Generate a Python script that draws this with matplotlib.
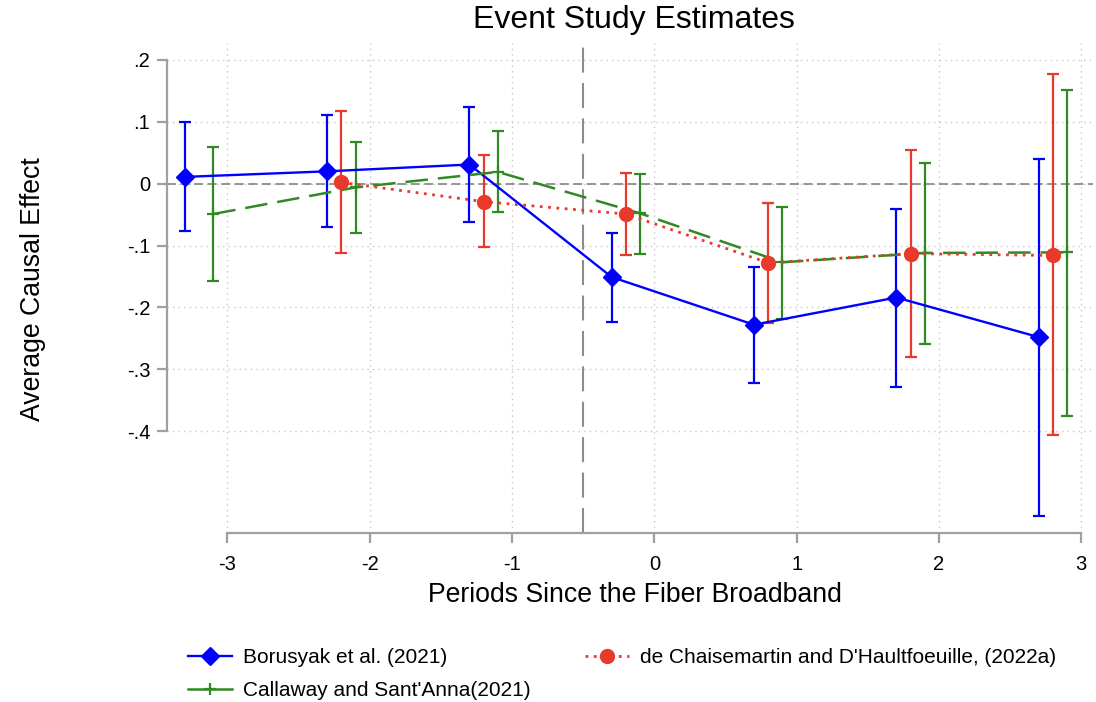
import matplotlib
matplotlib.use("Agg")
import matplotlib.pyplot as plt
from matplotlib.lines import Line2D
import numpy as np

plt.rcParams['font.family'] = ['Liberation Sans', 'DejaVu Sans']

# ---- data ----
periods = [-3, -2, -1, 0, 1, 2, 3]

# Borusyak et al. (2021)
bor_x = [-3.3, -2.3, -1.3, -0.3, 0.7, 1.7, 2.7]
bor_est = [0.011, 0.020, 0.031, -0.151, -0.228, -0.184, -0.248]
bor_lo = [-0.077, -0.070, -0.062, -0.223, -0.323, -0.328, -0.537]
bor_hi = [0.099, 0.111, 0.124, -0.079, -0.134, -0.041, 0.040]

# Callaway and Sant'Anna (2021)
cs_x = [-3.1, -2.1, -1.1, -0.1, 0.9, 1.9, 2.9]
cs_est = [-0.049, -0.006, 0.019, -0.048, -0.127, -0.112, -0.111]
cs_lo = [-0.158, -0.079, -0.046, -0.113, -0.218, -0.259, -0.375]
cs_hi = [0.060, 0.068, 0.085, 0.016, -0.038, 0.033, 0.152]

# de Chaisemartin and D'Haultfoeuille (2022a)
dc_x = [-2.2, -1.2, -0.2, 0.8, 1.8, 2.8]
dc_est = [0.002, -0.029, -0.049, -0.128, -0.113, -0.116]
dc_lo = [-0.112, -0.103, -0.115, -0.226, -0.281, -0.406]
dc_hi = [0.118, 0.047, 0.018, -0.031, 0.055, 0.177]

yticks = [0.2, 0.1, 0.0, -0.1, -0.2, -0.3, -0.4]
ytick_labels = [".2", ".1", "0", "-.1", "-.2", "-.3", "-.4"]
xtick_labels = ["-3", "-2", "-1", "0", "1", "2", "3"]

title = "Event Study Estimates"
xlabel = "Periods Since the Fiber Broadband"
ylabel = "Average Causal Effect"
labels = ["Borusyak et al. (2021)", "Callaway and Sant'Anna(2021)",
          "de Chaisemartin and D'Haultfoeuille, (2022a)"]

BLUE = "#0000FF"
GREEN = "#2F8A22"
RED = "#E8392B"
GREY = "#A0A0A0"

W, H = 1096, 702
fig = plt.figure(figsize=(W / 100, H / 100), dpi=100)
ax = fig.add_axes([167.5 / W, (H - 533) / H, (1093 - 167.5) / W, (533 - 43) / H])

x_left = -3 - 60 / 142.3
x_right = x_left + (1093 - 167.5) / 142.3
ax.set_xlim(x_left, x_right)
ax.set_ylim(-(533 - 183.7) / 618.5, (183.7 - 43) / 618.5)

# grid
for t in periods:
    ax.axvline(t, color="#C8C8C8", lw=1.0, ls=(0, (1, 3)), zorder=0)
for v in yticks:
    ax.axhline(v, color="#C8C8C8", lw=1.0, ls=(0, (1, 3)), zorder=0)

ax.axhline(0, color="#8C8C8C", lw=1.3, ls=(0, (5, 2.5)), zorder=1)
ax.axvline(-0.5, color="#8C8C8C", lw=1.5, ls=(0, (12, 5)), zorder=1)

def yerr(est, lo, hi):
    e = np.array(est); return [e - np.array(lo), np.array(hi) - e]

# Borusyak
ax.errorbar(bor_x, bor_est, yerr=yerr(bor_est, bor_lo, bor_hi), fmt="none",
            ecolor=BLUE, elinewidth=1.6, capsize=4.3, capthick=1.6, zorder=3)
hb, = ax.plot(bor_x, bor_est, color=BLUE, lw=1.7, marker="D", ms=9.5,
              mfc=BLUE, mec=BLUE, zorder=4)

# Callaway
ax.errorbar(cs_x, cs_est, yerr=yerr(cs_est, cs_lo, cs_hi), fmt="none",
            ecolor=GREEN, elinewidth=1.6, capsize=4.3, capthick=1.6, zorder=3)
hc, = ax.plot(cs_x, cs_est, color=GREEN, lw=1.8, marker="+", ms=9, mew=1.6,
              zorder=4)
hc.set_dashes([9, 4])

# de Chaisemartin
ax.errorbar(dc_x, dc_est, yerr=yerr(dc_est, dc_lo, dc_hi), fmt="none",
            ecolor=RED, elinewidth=1.6, capsize=4.3, capthick=1.6, zorder=3)
hd, = ax.plot(dc_x, dc_est, color=RED, lw=2.0, marker="o", ms=10,
              mfc=RED, mec=RED, zorder=5)
hd.set_dashes([1, 2.0])

# spines & ticks
for s in ["top", "right"]:
    ax.spines[s].set_visible(False)
ax.spines["left"].set_bounds(-0.4, 0.2)
ax.spines["bottom"].set_bounds(-3, 3)
for s in ["left", "bottom"]:
    ax.spines[s].set_color(GREY)
    ax.spines[s].set_linewidth(1.6)

ax.set_yticks(yticks)
ax.set_yticklabels(ytick_labels)
ax.set_xticks(periods)
ax.set_xticklabels(xtick_labels)
ax.tick_params(axis="both", colors=GREY, width=1.6, length=7.5, labelsize=14.5,
               labelcolor="black")
ax.tick_params(axis="y", pad=5)
ax.tick_params(axis="x", pad=8)

fig.text(633.5 / W, 1 - 20 / H, title, ha="center", va="center", fontsize=23)
fig.text(634.5 / W, 1 - 595 / H, xlabel, ha="center", va="center", fontsize=19.2)
fig.text(33 / W, 1 - 289 / H, ylabel, ha="center", va="center", fontsize=19.2,
         rotation=90)

# legend proxies (Callaway handle drawn solid as in the reference)
lb = Line2D([], [], color=BLUE, lw=1.7, marker="D", ms=9.5, mfc=BLUE, mec=BLUE)
lc = Line2D([], [], color=GREEN, lw=1.8, marker="+", ms=9, mew=1.6)
ld = Line2D([], [], color=RED, lw=2.0, marker="o", ms=10, mfc=RED, mec=RED)
ld.set_dashes([1, 2.0])

leg = fig.legend([lb, lc, ld], labels, ncol=2, loc="upper left",
                 bbox_to_anchor=(188 / W, 1 - 648 / H), frameon=False,
                 fontsize=15, handlelength=2.1, handletextpad=0.55,
                 columnspacing=2.6, labelspacing=0.68, borderpad=0,
                 borderaxespad=0)

fig.savefig("out.png", dpi=100)
